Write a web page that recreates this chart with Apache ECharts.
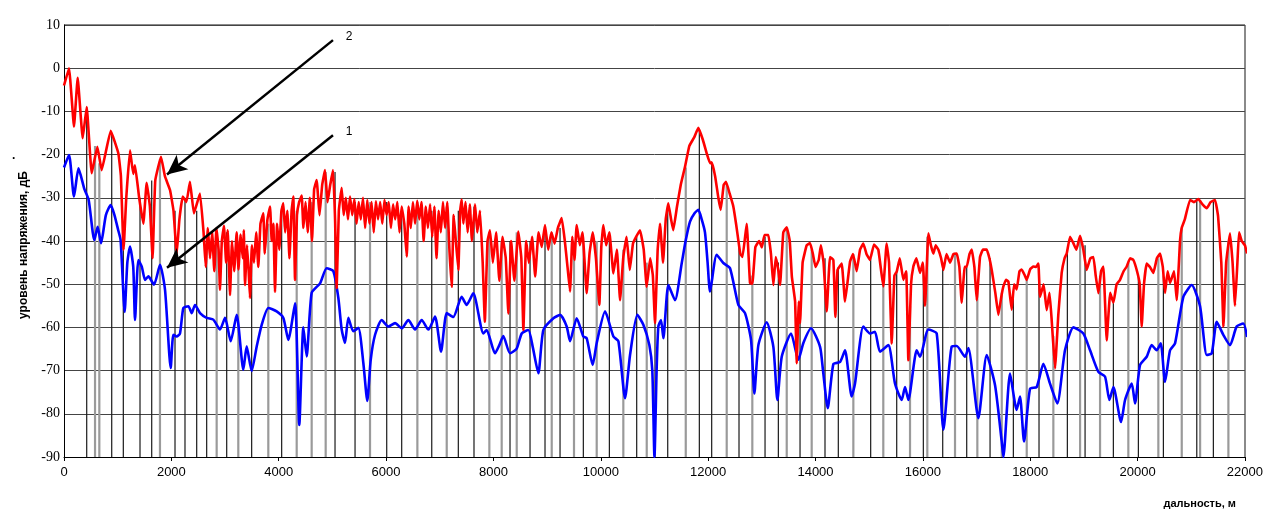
<!DOCTYPE html>
<html><head><meta charset="utf-8">
<script src="https://cdn.jsdelivr.net/npm/echarts@6/dist/echarts.min.js"></script>
<style>html,body{margin:0;padding:0;background:#fff}#c{width:1266px;height:509px}</style>
</head><body><div id="c"></div>
<script>
// x ticks (m) and y ticks (dB)
const xTicks = [0,2000,4000,6000,8000,10000,12000,14000,16000,18000,20000,22000];
const yTicks = [-90,-80,-70,-60,-50,-40,-30,-20,-10,0,10];

// curve 2 (red): [distance m, level dB]
const red = [[0,-4],[93,0],[186,-13.5],[255,-2.2],[348,-16.2],[423,-9],[516,-24.3],[621,-18.2],[702,-23.6],[870,-14.5],[1012,-19.7],[1060,-25],[1110,-42],[1160,-30],[1230,-19],[1290,-24.5],[1323,-22.5],[1400,-30],[1478,-36],[1540,-26.5],[1600,-32],[1650,-44],[1700,-26],[1807,-20.5],[1880,-25],[1975,-28.2],[2040,-33],[2099,-43],[2150,-35],[2211,-29.7],[2280,-31],[2347,-26.3],[2420,-33.6],[2533,-29],[2600,-38],
[2640,-46],[2680,-37],[2720,-44],[2760,-38],[2800,-47],[2840,-37],[2880,-42],[2906,-51.3],[2940,-40],[2980,-36.5],[3020,-45],[3050,-37.5],[3093,-52.5],[3130,-40],[3170,-47],[3217,-38],[3250,-46.6],[3290,-38.5],[3330,-44],[3350,-37.5],[3372,-50.2],[3410,-41],[3440,-47],[3465,-53.2],[3500,-41],[3540,-45],[3580,-38],[3620,-46],[3660,-36],[3713,-33.6],[3740,-42.9],[3790,-35],[3838,-32],[3870,-40],[3900,-36],[3931,-51.8],[3970,-36],[4010,-42],[4050,-33],[4086,-31.3],[4120,-38],[4160,-33],[4200,-44],[4240,-33],[4272,-29.7],[4304,-49],[4340,-34],[4380,-31],[4428,-29.5],[4460,-37],[4500,-31],[4540,-38],[4580,-30],[4620,-40],[4660,-28],[4707,-25.9],[4760,-34],[4810,-27],[4862,-23.6],[4910,-31],[4960,-27],[5012,-23.6],[5050,-35],[5080,-50.9],[5120,-33],
[5173,-27.7],[5210,-34],[5250,-30],[5290,-35],[5328,-29.7],[5370,-34],[5410,-30.3],[5450,-36],[5490,-31],[5530,-35],[5570,-30],[5610,-37],[5650,-30.5],[5690,-36],[5730,-31],[5770,-38],[5810,-30.8],[5850,-35],[5890,-31],[5930,-36],[5970,-30.5],[6010,-34],[6050,-31],[6090,-37],[6130,-31.5],[6170,-35],[6210,-31],[6250,-38],[6290,-32],[6340,-36],[6385,-43.6],[6420,-32],[6460,-37],[6500,-31],[6540,-36],[6580,-30.7],[6620,-35],[6660,-31],[6700,-40],[6740,-32],[6780,-37],[6820,-31.5],[6860,-39],[6900,-32],[6940,-44],[6980,-33],[7020,-38],[7060,-31],[7100,-37],[7140,-31],[7180,-42],[7222,-50.6],[7260,-34],[7300,-40],[7346,-46.7],[7380,-33],[7409,-30.4],[7440,-36],[7480,-31],[7520,-38],[7560,-31.5],[7600,-40],[7657,-31.5],[7700,-38],[7750,-33],[7800,-45],[7840,-58.7],[7890,-40],
[7936,-37.5],[7990,-45],[8050,-38],[8110,-49.2],[8170,-39],[8230,-44],[8278,-56.8],[8330,-40],[8390,-49.2],[8464,-37.8],[8520,-44],[8558,-60.6],[8610,-40],[8660,-45.1],[8720,-39],[8778,-48.2],[8840,-38],[8900,-41.4],[8961,-36.3],[9020,-42],[9080,-38],[9140,-40.6],[9200,-37],[9272,-34.7],[9330,-40],[9380,-46],[9427,-51.7],[9470,-39],[9510,-44.4],[9551,-36.3],[9610,-41],[9660,-38],[9737,-52.1],[9790,-42.9],[9850,-38],[9910,-44],[9973,-54.8],[10010,-41.3],[10047,-36.3],[10100,-41],[10160,-38],[10235,-47.5],[10300,-42],[10359,-53.7],[10420,-43.7],[10480,-39],[10540,-46.7],[10600,-40.6],[10660,-39],[10731,-37.5],[10800,-42],[10855,-50.6],[10920,-44],[10970,-48],[11010,-59],[11060,-42],[11103,-36],[11160,-45],[11210,-35],[11258,-31.3],[11310,-35],[11351,-37.5],[11420,-32],[11490,-27],[11569,-22.8],[11650,-18],[11740,-16],[11817,-13.8],[11900,-16.5],[11980,-20],[12035,-22],[12066,-21.8],[12130,-25],[12190,-30],[12234,-32.8],[12290,-27],[12333,-26.3],[12400,-29],[12469,-32],[12520,-36],[12562,-39.8],
[12600,-43],[12640,-43.7],[12718,-36],[12780,-49.7],[12823,-49.9],[12880,-41.4],[12950,-40],[13000,-41.5],[13050,-38.6],[13121,-38.6],[13170,-43],[13215,-50.2],[13260,-43.7],[13310,-47],[13340,-50.2],[13400,-38],[13464,-36.8],[13520,-40],[13560,-48.3],[13620,-54],[13650,-68.3],[13690,-54],[13712,-59],[13760,-45],[13836,-41],[13898,-40.5],[13950,-42.9],[14000,-46],[14060,-44.4],[14100,-41],[14150,-45],[14209,-56.3],[14270,-43.7],[14333,-44.4],[14370,-57.6],[14410,-46.7],[14488,-45.2],[14550,-54],[14643,-44.8],[14700,-43],[14767,-47],[14830,-42],[14891,-40.6],[14950,-43],[15015,-44.4],[15090,-40.8],[15170,-42],[15263,-50.5],[15325,-40.6],[15370,-45],[15420,-63.7],[15470,-48],[15513,-47.1],[15570,-44],[15637,-49],[15690,-47],[15730,-67.6],[15780,-50],[15823,-45.9],[15880,-44],[15948,-47.4],[16000,-45],[16041,-55],[16103,-38.2],[16150,-41],[16196,-42.9],[16240,-41],[16290,-42],[16340,-44],[16383,-46.7],[16440,-43],[16507,-45],[16570,-43],[16631,-42.9],[16680,-46],[16724,-54.3],[16780,-46],[16817,-46],[16870,-43],[16910,-42],[16960,-46],[17003,-53.7],[17065,-43.7],[17120,-42],[17190,-42],[17240,-44],[17283,-46.7],[17350,-52],[17407,-57.1],[17460,-53],[17500,-50.5],[17550,-49],[17593,-49.4],[17655,-55.9],[17700,-50],[17748,-51.2],[17800,-47],[17841,-46.6],[17900,-48],[17935,-49],[18000,-46.5],[18059,-45.9],[18110,-46],[18152,-45.2],[18183,-52.9],[18250,-50],[18307,-56],[18360,-52],[18400,-58.3],[18462,-69.5],[18524,-57],[18586,-47.4],[18640,-44],[18680,-42.9],[18742,-39],[18804,-40.5],[18860,-42],[18929,-38.8],[18990,-42],[19052,-46.7],[19120,-44],[19177,-43.7],[19220,-48],[19270,-52.1],[19320,-47],[19363,-45.9],[19425,-63],[19490,-52],[19550,-54.3],[19610,-50],[19673,-49],[19740,-47],[19798,-45.9],[19860,-44],[19922,-44.4],[19990,-47],[20040,-50],[20077,-59.8],[20120,-50],[20170,-45.2],[20230,-46],[20294,-47.4],[20360,-44],[20418,-42.9],[20470,-46],[20512,-52],[20560,-47],[20605,-49.7],[20680,-47],[20730,-53.7],[20792,-39.8],[20822,-37],[20880,-35],[20977,-30.5],[21050,-31],[21132,-30.3],[21210,-31.5],[21289,-32.4],[21360,-31],[21443,-30.5],[21500,-34.3],[21560,-45],[21600,-59.8],[21650,-45],[21722,-38.2],[21770,-45],[21815,-55],[21860,-45],[21890,-38],[21940,-40],[22000,-41],[22040,-42.9]];

// curve 1 (blue)
const blue = [[0,-23],[93,-20.1],[186,-29.7],[270,-23.2],[380,-28],[460,-30.5],[565,-39.8],[627,-36.7],[690,-40.5],[780,-34],[870,-31.7],[940,-34],[1010,-37.5],[1055,-39.8],[1130,-56.4],[1180,-45],[1230,-41.3],[1290,-46],[1323,-58.3],[1385,-44.4],[1450,-46],[1510,-49],[1571,-48.2],[1677,-50.1],[1789,-45.5],[1882,-51.3],[1988,-69.4],[2037,-61.7],[2099,-62.1],[2161,-61.4],[2224,-55.5],[2317,-55.1],[2379,-56.7],[2441,-54.8],[2534,-56.7],[2658,-57.8],[2782,-58.2],[2906,-60.5],[3000,-57.8],[3106,-63.2],[3217,-57.1],[3341,-69.8],[3403,-64.4],[3496,-70.1],[3590,-64.4],[3683,-59.4],[3807,-55.5],[3962,-56.3],[4086,-57.8],[4179,-62.9],[4304,-54.4],[4383,-82.6],[4459,-60],[4521,-66.7],[4614,-52],[4770,-49.8],[4893,-46.3],[5018,-47],[5111,-53.2],[5173,-60.5],[5235,-63.6],[5297,-57.8],[5390,-60.9],[5484,-60.1],[5577,-68.3],[5650,-77],[5714,-67.5],[5795,-61.7],[5918,-58.3],[6043,-59.8],[6167,-59],[6291,-60.2],[6415,-58.3],[6540,-60.5],[6664,-58.3],[6788,-60.5],[6912,-57.5],[7024,-65.6],[7130,-56.7],[7253,-57.6],[7408,-52.9],[7501,-54.8],[7625,-52.1],[7812,-61.4],[7874,-60.6],[8029,-66],[8110,-64.1],[8184,-62],[8309,-66],[8433,-64.9],[8527,-61.4],[8651,-60.6],[8732,-64.5],[8837,-70.6],[8930,-60.6],[9117,-57.9],[9241,-57.1],[9365,-59.8],[9427,-63.2],[9551,-57.9],[9675,-62.1],[9737,-62.5],[9849,-68.7],[9924,-63.6],[10080,-56.3],[10235,-62.1],[10328,-63.2],[10452,-76.4],[10545,-66.4],[10681,-57.1],[10793,-59.4],[10905,-64.1],[10960,-70],[11000,-90],[11040,-70],[11072,-59.8],[11122,-58.3],[11166,-62.5],[11259,-50.2],[11383,-53.7],[11507,-45.2],[11580,-40],[11662,-35.5],[11750,-33.5],[11817,-32.8],[11880,-35],[11941,-38],[11990,-45],[12035,-51.7],[12159,-43.2],[12283,-45.1],[12408,-46.3],[12563,-54.8],[12687,-56.7],[12799,-62.9],[12861,-75.3],[12936,-64.1],[13091,-58.8],[13215,-64.5],[13290,-76.8],[13371,-66.8],[13545,-61.4],[13681,-67.5],[13774,-63.6],[13917,-60.2],[14085,-64.5],[14140,-70],[14228,-78.7],[14333,-68.5],[14458,-68],[14550,-65.3],[14674,-76],[14736,-73],[14891,-59.8],[15015,-61.4],[15108,-61],[15201,-65.6],[15357,-64.1],[15481,-73],[15606,-76.8],[15668,-73.8],[15730,-76.8],[15885,-65.3],[15948,-66.8],[16103,-60.5],[16258,-61.4],[16383,-83.7],[16538,-64.4],[16631,-64.3],[16786,-66.8],[16848,-64.8],[17034,-81],[17190,-66.4],[17345,-73.4],[17469,-86.4],[17500,-90],[17624,-70.7],[17748,-79.1],[17810,-76],[17885,-86.4],[17997,-74.2],[18121,-73.8],[18245,-68.4],[18369,-73],[18505,-77.6],[18648,-65.3],[18804,-60],[18990,-61.4],[19115,-65.3],[19270,-70.3],[19394,-71.4],[19475,-76.8],[19550,-73.8],[19693,-81.9],[19767,-76.8],[19891,-73],[19953,-77.6],[20046,-68.7],[20170,-66.8],[20263,-64.1],[20356,-65.3],[20431,-63.7],[20512,-72.6],[20605,-65.3],[20698,-63.7],[20854,-52.9],[21009,-50.2],[21164,-55.1],[21289,-66.4],[21382,-66],[21475,-58.7],[21600,-61.8],[21722,-64.1],[21846,-59.8],[21970,-59.1],[22040,-62.2]];

// vertical reflection marks: [distance m, top level dB, style 1=grey thick 0=black thin]
const marks = [[423,-9,0],[578,-18,1],[658,-22,1],[889,-15,0],[1105,-40,0],[1416,-30,0],[1634,-26,0],[1788,-21,1],[2068,-33,0],[2254,-30,0],[2472,-33,0],[2658,-40,0],[2844,-38,1],[3031,-38,0],[3247,-40,1],[3496,-42,0],[3806,-36,1],[4055,-32,0],[4335,-33,1],[4614,-31,1],[4875,-24,1],[5049,-24,0],[5422,-31,0],[5701,-31,1],[6012,-31,0],[6291,-33,0],[6583,-31,1],[6851,-33,0],[7130,-32,1],[7346,-33,0],[7638,-32,0],[7924,-38,1],[8154,-40,1],[8309,-40,0],[8434,-38,1],[8682,-40,0],[8961,-36.5,0],[9086,-38,1],[9241,-37,0],[9501,-40,1],[9675,-39,0],[9924,-40,1],[10160,-38,0],[10420,-42,1],[10669,-39,0],[10856,-45,1],[11010,-55,0],[11247,-31.5,0],[11583,-23,1],[11836,-14,0],[12066,-22,0],[12346,-27,1],[12575,-41,0],[12823,-48,1],[13060,-39,0],[13308,-45,0],[13464,-37,1],[13712,-55,0],[13929,-42,1],[14177,-44,0],[14425,-46,0],[14705,-43,1],[15028,-44,0],[15263,-49,1],[15513,-47,0],[15761,-55,1],[16009,-46,0],[16083,-39,1],[16370,-45,0],[16599,-43,1],[16817,-46,0],[17015,-50,1],[17252,-44,0],[17470,-52,1],[17686,-53,0],[17935,-49,1],[18164,-50,0],[18431,-62,1],[18692,-42,0],[18929,-39,1],[19022,-41,0],[19301,-48,1],[19549,-54,0],[19828,-45,1],[20015,-48,0],[20387,-44,1],[20481,-48,0],[20823,-37,1],[21103,-30.5,0],[21165,-30.5,1],[21412,-31,0],[21692,-40,1]];

// annotation arrows: [label, from [x,y], to [x,y]]
const arrows = [["2",[5011,6.5],[1919,-24.6]],["1",[5011,-15.5],[1919,-46.2]]];

const chart = echarts.init(document.getElementById('c'), null, {renderer:'canvas'});
const baseGraphic = [
  {type:'text',left:12,top:150,style:{text:'.',font:'bold 12px Liberation Sans',fill:'#000'}},
  {type:'text',x:24,y:245,rotation:Math.PI/2,style:{text:'уровень напряжения, дБ',font:'bold 12px Liberation Sans',fill:'#000',textAlign:'center',textVerticalAlign:'middle'}},
  {type:'text',right:30,bottom:0,style:{text:'дальность, м',font:'bold 11px Liberation Sans',fill:'#000'}}
];
const option = {
  animation:false,
  backgroundColor:'#fff',
  grid:{left:64,right:21,top:25,bottom:52,containLabel:false,show:false},
  xAxis:{type:'value',min:0,max:22000,interval:2000,
    axisLine:{show:true,onZero:false,lineStyle:{color:'#000',width:1}},
    axisTick:{show:true,length:4,lineStyle:{color:'#000'}},
    axisLabel:{color:'#000',fontFamily:'Liberation Sans',fontSize:13,margin:9,
      formatter:v=>xTicks.includes(v)?String(v):''},
    splitLine:{show:false}},
  yAxis:{type:'value',min:-90,max:10,interval:10,
    axisLine:{show:true,onZero:false,lineStyle:{color:'#000',width:1}},
    axisTick:{show:false},
    axisLabel:{color:'#000',fontFamily:'Liberation Serif',fontSize:14,margin:4,
      formatter:v=>yTicks.includes(v)?String(v):''},
    splitLine:{show:true,lineStyle:{color:'#444',width:1}}},
  graphic:baseGraphic.concat([
    {type:'line',shape:{x1:64,y1:25,x2:1245,y2:25},style:{stroke:'#8a8a8a',lineWidth:2},z:0},
    {type:'line',shape:{x1:1245,y1:25,x2:1245,y2:457},style:{stroke:'#8a8a8a',lineWidth:2},z:0}
  ]),
  series:[
    {type:'custom',name:'marks',data:marks,z:1,clip:true,
      renderItem:(params,api)=>{
        const x=api.value(0), top=api.value(1), g=api.value(2);
        const p1=api.coord([x,-90]), p2=api.coord([x,top]);
        return {type:'line',shape:{x1:p1[0],y1:p1[1],x2:p2[0],y2:p2[1]},
          style:{stroke:g?'#9a9a9a':'#1a1a1a',lineWidth:g?2.2:1.2}};
      }},
    {type:'line',name:'1',data:blue,showSymbol:false,smooth:0.2,z:3,clip:true,
      lineStyle:{color:'#0000ff',width:2.6}},
    {type:'line',name:'2',data:red,showSymbol:false,smooth:0.1,z:4,clip:true,
      lineStyle:{color:'#ff0000',width:2.6}},
    {type:'line',name:'arrows',data:[],z:6,
      markLine:{silent:true,symbol:['none','arrow'],symbolSize:[14,20],
        lineStyle:{color:'#000',width:2.5,type:'solid'},
        label:{show:false},
        data:arrows.map(a=>[{coord:a[1]},{coord:a[2]}])},
      markPoint:{silent:true,symbol:'circle',symbolSize:0,
        label:{show:true,color:'#000',fontFamily:'Liberation Sans',fontSize:12,offset:[16,-3]},
        data:arrows.map(a=>({coord:a[1],value:a[0]}))}}
  ]
};
chart.setOption(option);
</script></body></html>
